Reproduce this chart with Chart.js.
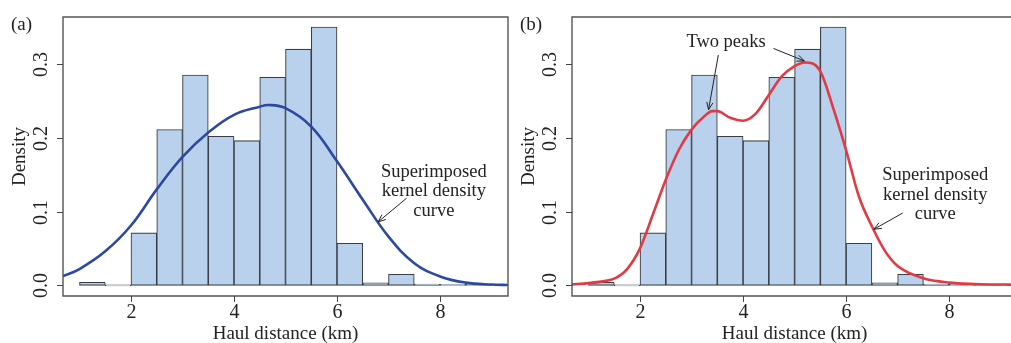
<!DOCTYPE html>
<html lang="en">
  <head>
    <meta charset="utf-8">
    <title>Haul distance density</title>
    <style>
      html, body { margin: 0; overflow: hidden; background: #fff; }
      body { width: 1011px; height: 343px; position: relative; }
      .panel { position: absolute; top: 0; height: 343px; }
    </style>
  </head>
  <body>

<div class="panel" style="left:0px; width:510px;"><canvas id="graphA"></canvas></div>
<div class="panel" style="left:509px; width:502px;"><canvas id="graphB"></canvas></div>

<script src="https://cdn.jsdelivr.net/npm/chart.js@4.4.0/dist/chart.umd.min.js"></script>
<script>
// histogram bins (km) and densities, same in both panels
var binStarts = [1, 1.5, 2, 2.5, 3, 3.5, 4, 4.5, 5, 5.5, 6, 6.5, 7, 7.5, 8, 8.5];
var densities = [0.004, 0, 0.071, 0.211, 0.285, 0.202, 0.196, 0.282, 0.320, 0.350, 0.057, 0.0035, 0.015, 0.0015, 0.001, 0.0007];
var binWidth = 0.5;

// panel (a): wide kernel density curve
var curveAx = [0.68, 1, 1.5, 2, 2.5, 3, 3.5, 4, 4.5, 4.67, 5, 5.5, 6, 6.5, 7, 7.5, 8, 8.5, 9, 9.32];
var curveAy = [0.0125, 0.022, 0.046, 0.081, 0.130, 0.174, 0.207, 0.231, 0.242, 0.2443, 0.240, 0.215, 0.168, 0.116, 0.066, 0.030, 0.012, 0.0036, 0.001, 0.0005];

// panel (b): narrow kernel density curve with two peaks
var curveBx = [0.68, 1, 1.25, 1.5, 1.75, 2, 2.25, 2.5, 2.75, 3, 3.25, 3.4, 3.5, 3.75, 4, 4.25, 4.5, 4.75, 5, 5.2, 5.5, 5.75, 6, 6.25, 6.5, 6.75, 7, 7.5, 8, 8.5, 9, 9.32];
var curveBy = [0.0013, 0.003, 0.005, 0.009, 0.022, 0.050, 0.096, 0.143, 0.183, 0.211, 0.229, 0.236, 0.236, 0.227, 0.223, 0.233, 0.258, 0.283, 0.297, 0.302, 0.290, 0.240, 0.183, 0.120, 0.080, 0.047, 0.026, 0.0095, 0.0036, 0.0018, 0.001, 0.0008];

var xTicks = [2, 4, 6, 8];
var yTicks = [0, 0.1, 0.2, 0.3];
var yTickLabels = ['0.0', '0.1', '0.2', '0.3'];
var xTitle = 'Haul distance (km)';
var yTitle = 'Density';

var serif = "'Liberation Serif', 'DejaVu Serif', serif";

function arrow(ctx, x1, y1, x2, y2) {
	var a = Math.atan2(y2 - y1, x2 - x1), L = 8, w = 0.4;
	ctx.beginPath();
	ctx.moveTo(x1, y1); ctx.lineTo(x2, y2);
	ctx.moveTo(x2 - L * Math.cos(a - w), y2 - L * Math.sin(a - w));
	ctx.lineTo(x2, y2);
	ctx.lineTo(x2 - L * Math.cos(a + w), y2 - L * Math.sin(a + w));
	ctx.stroke();
}

// R style frame, axes, labels and notes
var rAxes = {
	id: 'rAxes',
	afterDraw: function (chart, args, opts) {
		var ctx = chart.ctx, a = chart.chartArea;
		var xs = chart.scales.x, ys = chart.scales.y;
		ctx.save();
		ctx.strokeStyle = '#555';
		ctx.lineWidth = 1.4;
		ctx.beginPath();
		ctx.moveTo(a.right, a.top); ctx.lineTo(a.left, a.top);
		ctx.lineTo(a.left, a.bottom); ctx.lineTo(a.right, a.bottom);
		if (opts.closed) ctx.closePath();
		ctx.stroke();
		ctx.fillStyle = '#222';
		ctx.strokeStyle = '#444';
		ctx.lineWidth = 1;
		ctx.font = '20px ' + serif;
		ctx.textAlign = 'center';
		ctx.textBaseline = 'middle';
		xTicks.forEach(function (v) {
			var px = Math.round(xs.getPixelForValue(v)) + 0.5;
			ctx.beginPath(); ctx.moveTo(px, a.bottom); ctx.lineTo(px, a.bottom + 6); ctx.stroke();
			ctx.fillText(String(v), px, a.bottom + 17);
		});
		yTicks.forEach(function (v, i) {
			var py = Math.round(ys.getPixelForValue(v)) + 0.5;
			ctx.beginPath(); ctx.moveTo(a.left, py); ctx.lineTo(a.left - 6, py); ctx.stroke();
			ctx.save();
			ctx.translate(a.left - 21, py);
			ctx.rotate(-Math.PI / 2);
			ctx.fillText(yTickLabels[i], 0, 0);
			ctx.restore();
		});
		ctx.font = '19px ' + serif;
		ctx.fillText(xTitle, xs.getPixelForValue(opts.titleX), a.bottom + 38);
		ctx.save();
		ctx.translate(a.left - 43, (a.top + a.bottom) / 2);
		ctx.rotate(-Math.PI / 2);
		ctx.fillText(yTitle, 0, 0);
		ctx.restore();
		ctx.textAlign = 'left';
		ctx.fillText(opts.tag, 11, 25);

		// notes
		ctx.font = '18.5px ' + serif;
		ctx.textAlign = 'center';
		ctx.strokeStyle = '#222';
		ctx.lineWidth = 1;
		opts.notes.forEach(function (n) {
			n.lines.forEach(function (t, i) {
				ctx.fillText(t, xs.getPixelForValue(n.x), ys.getPixelForValue(n.y) + i * 19.5);
			});
			n.arrows.forEach(function (r) {
				arrow(ctx, xs.getPixelForValue(r[0]), ys.getPixelForValue(r[1]), xs.getPixelForValue(r[2]), ys.getPixelForValue(r[3]));
			});
		});
		ctx.restore();
	}
};

function creerChart(id, w, xMax, padRight, closed, cx, cy, colour, smooth, tag, notes) {
	var canvas = document.getElementById(id);
	canvas.width = w;
	canvas.height = 343;
	var ctx = canvas.getContext('2d');
	return new Chart(ctx, {
		type: 'bar',
		data: {
			datasets: [{
				type: 'line',
				order: 0,
				data: cx.map(function (x, i) { return { x: x, y: cy[i] }; }),
				borderColor: colour,
				borderWidth: 2.6,
				pointRadius: 0,
				tension: 0.4,
				cubicInterpolationMode: smooth,
				fill: false
			}, {
				type: 'bar',
				order: 1,
				data: binStarts.map(function (s, i) { return { x: s + binWidth / 2, y: densities[i] }; }),
				backgroundColor: '#b9d1ec',
				borderColor: '#3a3d44',
				borderWidth: 1.1,
				borderSkipped: false,
				minBarLength: 1,
				barPercentage: 1,
				categoryPercentage: 1
			}]
		},
		options: {
			responsive: false,
			animation: false,
			layout: { padding: { left: 63, right: padRight, top: 17, bottom: 47 } },
			plugins: {
				legend: { display: false },
				tooltip: { enabled: false },
				rAxes: { tag: tag, notes: notes, closed: closed, titleX: 5 }
			},
			scales: {
				x: { type: 'linear', display: false, offset: false, min: 0.68, max: xMax },
				y: { type: 'linear', display: false, min: -0.0145, max: 0.3636 }
			}
		},
		plugins: [rAxes]
	});
}

creerChart('graphA', 510, 9.32, 2, true, curveAx, curveAy, '#2c48a2', 'default', '(a)', [
	{ x: 7.88, y: 0.154, lines: ['Superimposed', 'kernel density', 'curve'], arrows: [[7.35, 0.118, 6.80, 0.086]] }
]);
// right part of panel (b) is cut by the page edge
creerChart('graphB', 502, 9.2, 0, false, curveBx, curveBy, '#e23a42', 'monotone', '(b)', [
	{ x: 7.73, y: 0.149, lines: ['Superimposed', 'kernel density', 'curve'], arrows: [[7.10, 0.098, 6.54, 0.076]] },
	{ x: 3.67, y: 0.330, lines: ['Two peaks'], arrows: [[3.52, 0.312, 3.33, 0.238], [4.59, 0.321, 5.19, 0.304]] }
]);
</script>
  </body>
</html>
